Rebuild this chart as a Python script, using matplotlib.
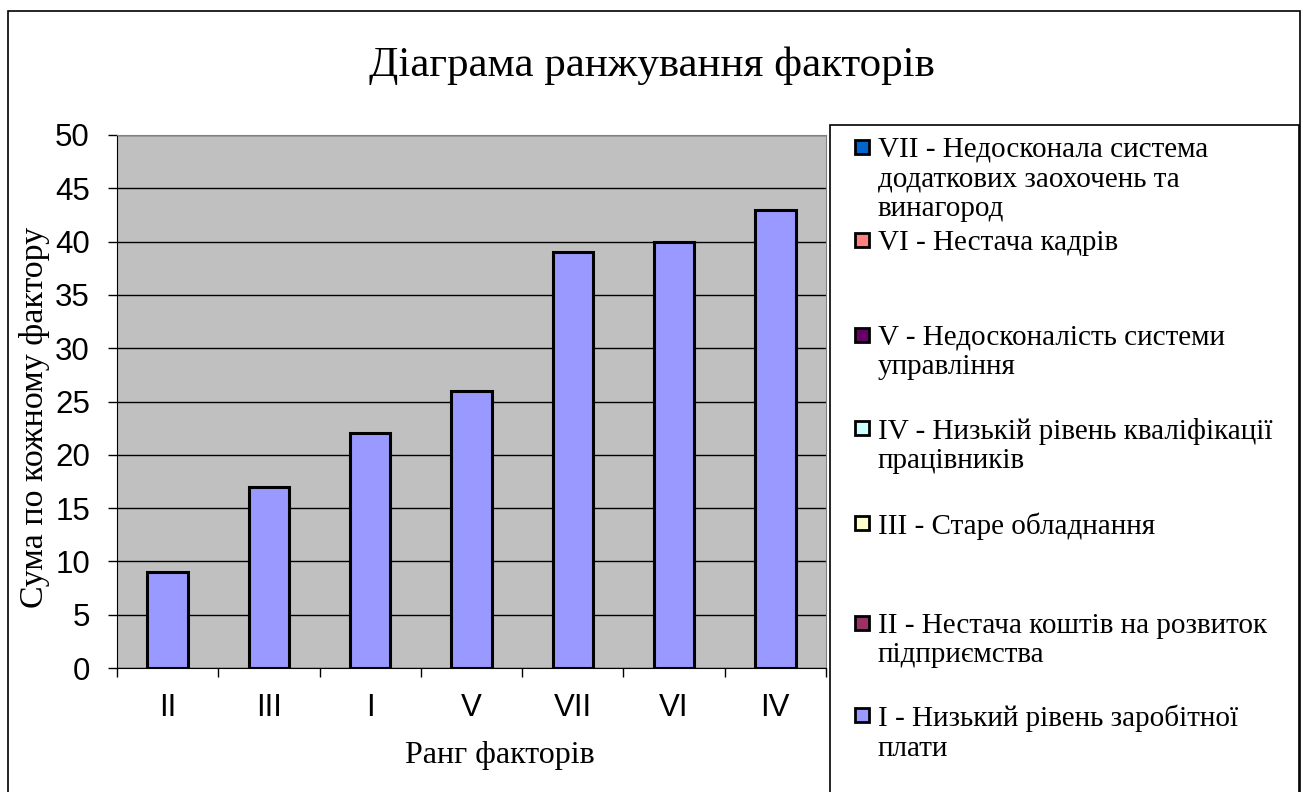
import matplotlib
matplotlib.use("Agg")
import matplotlib.pyplot as plt
from matplotlib.patches import Rectangle

categories = ["II", "III", "I", "V", "VII", "VI", "IV"]
values = [9, 17, 22, 26, 39, 40, 43]
legend_labels = [
    "VII - Недосконала система\nдодаткових заохочень та\nвинагород",
    "VI - Нестача кадрів",
    "V - Недосконалість системи\nуправління",
    "IV - Низькій рівень кваліфікації\nпрацівників",
    "III - Старе обладнання",
    "II - Нестача коштів на розвиток\nпідприємства",
    "I - Низький рівень заробітної\nплати",
]
legend_colors = ["#0066CC", "#FF8080", "#660066", "#CCFFFF", "#FFFFCC", "#993366", "#9999FF"]
title = "Діаграма ранжування факторів"
xlabel = "Ранг факторів"
ylabel = "Сума по кожному фактору"

W, H = 1303, 792
fig = plt.figure(figsize=(W / 100, H / 100), dpi=100)

def fx(px):
    return px / W

def fy(py):
    return 1 - py / H

# outer border
fig.patches.append(Rectangle((fx(8), fy(800)), fx(1300) - fx(8), fy(11) - fy(800),
                             transform=fig.transFigure, fill=False, edgecolor="black", lw=1.2))

ax = fig.add_axes([fx(117), fy(668), fx(826) - fx(117), fy(135) - fy(668)])
ax.set_facecolor("#C0C0C0")
x = list(range(len(categories)))
ax.set_axisbelow(True)
ax.yaxis.grid(True, color="black", lw=1.0)
ax.bar(x, values, width=0.4, color="#9999FF", edgecolor="black", lw=2.2, zorder=3)
ax.set_xlim(-0.5, len(categories) - 0.5)
ax.set_ylim(0, 50)
ax.set_yticks(range(0, 51, 5))
ax.tick_params(axis="y", direction="out", length=6.5, width=1, pad=13, labelsize=22.5)
ax.set_xticks([i - 0.5 for i in range(len(categories) + 1)])
ax.set_xticklabels([])
ax.set_xticks(x, minor=True)
ax.set_xticklabels(categories, minor=True)
ax.tick_params(axis="x", which="major", direction="out", length=6.5, width=1)
ax.tick_params(axis="x", which="minor", length=0, pad=18, labelsize=22.5)
for lab in ax.get_xticklabels(minor=True) + ax.get_yticklabels():
    lab.set_fontfamily("Liberation Sans")
ax.spines["top"].set_color("#808080")
ax.spines["right"].set_color("#808080")
ax.spines["left"].set_color("black")
ax.spines["bottom"].set_color("black")

serif = "Liberation Serif"
fig.text(0.5, fy(66), title, ha="center", va="center", fontsize=31, family=serif)
fig.text(fx(500), fy(755), xlabel, ha="center", va="center", fontsize=23, family=serif)
fig.text(fx(35), fy(417), ylabel, ha="center", va="center", rotation=90, fontsize=24.5, family=serif)

# legend box
fig.patches.append(Rectangle((fx(830), fy(800)), fx(1299) - fx(830), fy(125) - fy(800),
                             transform=fig.transFigure, fill=True, facecolor="white",
                             edgecolor="black", lw=1.2))
ys = [147, 240, 335, 428, 523, 623, 715]
for lab, col, yc in zip(legend_labels, legend_colors, ys):
    s = 14
    fig.patches.append(Rectangle((fx(855), fy(yc + s / 2)), s / W, s / H,
                                 transform=fig.transFigure, facecolor=col,
                                 edgecolor="black", lw=2.0))
    fig.text(fx(878), fy(yc - 10), lab, ha="left", va="top", fontsize=21,
             family=serif, linespacing=1.17)

fig.savefig("out.png", dpi=100)
